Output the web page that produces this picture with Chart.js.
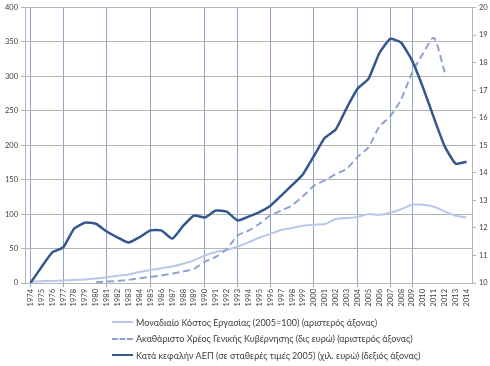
<!DOCTYPE html>
<html>
<head>
<meta charset="utf-8">
<script src="https://cdn.jsdelivr.net/npm/chart.js@4"></script>
<style>
  html, body { margin: 0; padding: 0; background: #fff; }
  #wrap { position: relative; width: 490px; height: 366px; }
  #box { position: absolute; left: 0; top: 0; width: 490px; height: 318px; }
  #legend { position: absolute; left: 112px; top: 314px; font-family: Lato, "Open Sans", sans-serif; font-size: 9px; color: #404040; }
  .row { height: 16.5px; display: flex; align-items: center; white-space: nowrap; }
  .sw { width: 21px; height: 0; margin-right: 3px; }
</style>
</head>
<body>
<div id="wrap">
  <div id="box"><canvas id="c"></canvas></div>
  <div id="legend"></div>
</div>
<script>
const years = ['1974','1975','1976','1977','1978','1979','1980','1981','1982','1983','1984','1985','1986','1987','1988','1989','1990','1991','1992','1993','1994','1995','1996','1997','1998','1999','2000','2001','2002','2003','2004','2005','2006','2007','2008','2009','2010','2011','2012','2013','2014'];

// Unit labour cost (2005=100), left axis
const unitLabourCost = [2,2.5,3,3.5,4.3,5.2,6.5,8.3,10.5,12.5,16,19,21.5,24,28,33,40,45,48,53,59,66,71,77,80,83,84.6,85.6,92.8,94.2,96,100,99,102,107,113.5,113.5,110.6,103.8,97.6,95.2];

// General government gross debt (bn euro), left axis
const govDebt = [null,null,null,null,null,null,1,2,3,4.5,7,8.8,11,13.5,16.7,20.5,31,38,49,69,76,86,98,105,113,126,141,149,158,166,183,197,227,242,267,305,333,356,306,null,null];

// GDP per capita (constant 2005 prices, thousand euro), right axis
const gdpPerCapita = [10.0,10.57,11.11,11.29,11.97,12.19,12.15,11.87,11.65,11.47,11.66,11.91,11.91,11.61,12.07,12.45,12.38,12.63,12.59,12.27,12.41,12.57,12.8,13.17,13.55,13.95,14.61,15.27,15.57,16.35,17.05,17.41,18.34,18.86,18.72,18.08,17.1,16.0,14.96,14.33,14.4];

// Years marked with vertical lines
const markedYears = ['1974','1977','1981','1985','1990','1993','1996','2000','2004','2007','2009'];

const leftTicks = [0,50,100,150,200,250,300,350,400];
const rightTicks = [10,11,12,13,14,15,16,17,18,19,20];

const seriesLabels = [
  'Μοναδιαίο Κόστος Εργασίας (2005=100) (αριστερός άξονας)',
  'Ακαθάριστο Χρέος Γενικής Κυβέρνησης (δις ευρώ) (αριστερός άξονας)',
  'Κατά κεφαλήν ΑΕΠ (σε σταθερές τιμές 2005) (χιλ. ευρώ) (δεξιός άξονας)'
];

const COL_ULC = '#b8c9e8';
const COL_DEBT = '#8fa3d3';
const COL_GDP = '#34578f';
const GRID = '#b4b4b4';
const TXT = '#404040';
const FONT = 'Lato, "Open Sans", sans-serif';

const ctx = document.getElementById('c');
new Chart(ctx, {
  type: 'line',
  data: {
    labels: years,
    datasets: [
      { label: seriesLabels[0], data: unitLabourCost, yAxisID: 'yL', borderColor: COL_ULC, borderWidth: 2, pointRadius: 0, tension: 0.25, order: 3 },
      { label: seriesLabels[1], data: govDebt, yAxisID: 'yL', borderColor: COL_DEBT, borderWidth: 2, borderDash: [7,4], pointRadius: 0, tension: 0.25, order: 2, spanGaps: false },
      { label: seriesLabels[2], data: gdpPerCapita, yAxisID: 'yR', borderColor: COL_GDP, borderWidth: 2.5, pointRadius: 0, tension: 0.15, order: 1 }
    ]
  },
  options: {
    responsive: true,
    maintainAspectRatio: false,
    animation: false,
    layout: { padding: { top: 5, left: 0, right: 0, bottom: 0 } },
    plugins: { legend: { display: false }, tooltip: { enabled: false } },
    scales: {
      x: {
        offset: true,
        grid: {
          offset: false,
          color: (c) => (c.tick && markedYears.includes(years[c.index])) ? '#8fa4c8' : 'rgba(0,0,0,0)',
          lineWidth: 1,
          tickLength: 4
        },
        border: { color: GRID },
        ticks: { autoSkip: false, minRotation: 90, maxRotation: 90, color: TXT, font: { family: FONT, size: 7.5 }, padding: 2 },
        afterFit: (s) => { s.height = 35; }
      },
      yL: {
        position: 'left',
        min: 0, max: 400,
        afterBuildTicks: (s) => { s.ticks = leftTicks.map(v => ({ value: v })); },
        grid: { color: GRID, tickLength: 4 },
        border: { color: GRID },
        ticks: { color: TXT, font: { family: FONT, size: 7.5 }, padding: 3 },
        afterFit: (s) => { s.width = 25; }
      },
      yR: {
        position: 'right',
        min: 10, max: 20,
        afterBuildTicks: (s) => { s.ticks = rightTicks.map(v => ({ value: v })); },
        grid: { drawOnChartArea: false, color: GRID, tickLength: 4 },
        border: { color: GRID },
        ticks: { color: TXT, font: { family: FONT, size: 7.5 }, padding: 3 },
        afterFit: (s) => { s.width = 18; }
      }
    }
  }
});

// HTML legend
const legend = document.getElementById('legend');
const styles = [
  { color: COL_ULC, style: 'solid', w: 2 },
  { color: COL_DEBT, style: 'dashed', w: 2 },
  { color: COL_GDP, style: 'solid', w: 2.5 }
];
seriesLabels.forEach((t, i) => {
  const row = document.createElement('div');
  row.className = 'row';
  const sw = document.createElement('div');
  sw.className = 'sw';
  sw.style.borderTop = styles[i].w + 'px ' + styles[i].style + ' ' + styles[i].color;
  const span = document.createElement('span');
  span.textContent = t;
  row.appendChild(sw);
  row.appendChild(span);
  legend.appendChild(row);
});
</script>
</body>
</html>
